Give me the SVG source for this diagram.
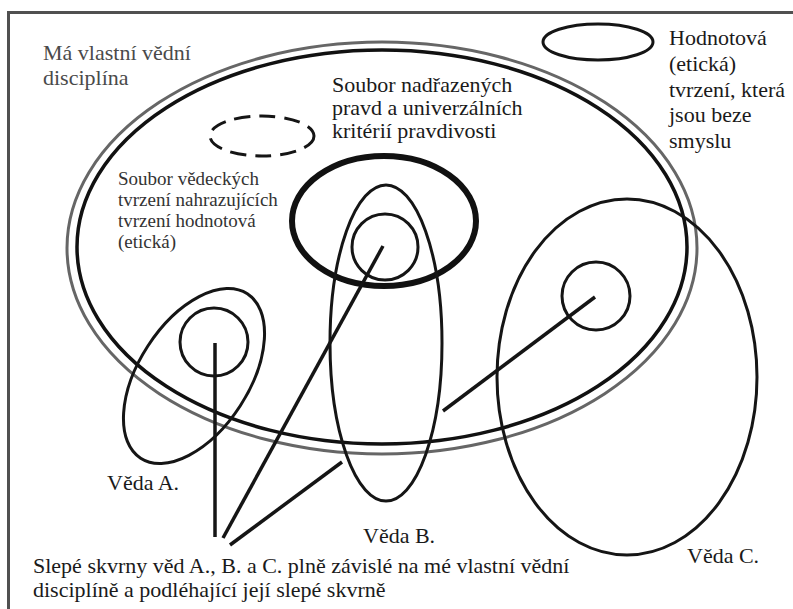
<svg xmlns="http://www.w3.org/2000/svg" width="793" height="609" viewBox="0 0 793 609">
<rect x="0" y="0" width="793" height="609" fill="#ffffff"/>
<g id="frame">
<path d="M8.5 609 V12.5 H793" fill="none" stroke="#505050" stroke-width="3"/>
</g>
<g id="discipline">
<ellipse cx="382" cy="248" rx="315" ry="206" fill="none" stroke="#666" stroke-width="3"/>
<ellipse cx="382" cy="247" rx="305" ry="197" fill="none" stroke="#111" stroke-width="3.5"/>
<text font-family="Times New Roman, Liberation Serif, serif" font-size="22" fill="#4a4a4a" x="43" y="60">Má vlastní vědní</text>
<text font-family="Times New Roman, Liberation Serif, serif" font-size="22" fill="#4a4a4a" x="43" y="85">disciplína</text>
</g>
<g id="dashed">
<ellipse cx="262" cy="136" rx="52" ry="20" fill="none" stroke="#151515" stroke-width="3" stroke-dasharray="16 9"/>
</g>
<g id="vedecka">
<text font-family="Times New Roman, Liberation Serif, serif" font-size="19" fill="#333" x="118" y="185">Soubor vědeckých</text>
<text font-family="Times New Roman, Liberation Serif, serif" font-size="19" fill="#333" x="118" y="206">tvrzení nahrazujících</text>
<text font-family="Times New Roman, Liberation Serif, serif" font-size="19" fill="#333" x="118" y="227">tvrzení hodnotová</text>
<text font-family="Times New Roman, Liberation Serif, serif" font-size="19" fill="#333" x="118" y="248">(etická)</text>
</g>
<g id="hodnotova">
<ellipse cx="598" cy="42" rx="55" ry="18" fill="none" stroke="#151515" stroke-width="3"/>
<text font-family="Times New Roman, Liberation Serif, serif" font-size="22" fill="#1a1a1a" x="669" y="45">Hodnotová</text>
<text font-family="Times New Roman, Liberation Serif, serif" font-size="22" fill="#1a1a1a" x="669" y="71">(etická)</text>
<text font-family="Times New Roman, Liberation Serif, serif" font-size="22" fill="#1a1a1a" x="669" y="97">tvrzení, která</text>
<text font-family="Times New Roman, Liberation Serif, serif" font-size="22" fill="#1a1a1a" x="669" y="122">jsou beze</text>
<text font-family="Times New Roman, Liberation Serif, serif" font-size="22" fill="#1a1a1a" x="669" y="148">smyslu</text>
</g>
<g id="pravdy">
<ellipse cx="384" cy="221" rx="92" ry="65" fill="none" stroke="#111" stroke-width="6"/>
<text font-family="Times New Roman, Liberation Serif, serif" font-size="22" fill="#1a1a1a" x="332" y="92">Soubor nadřazených</text>
<text font-family="Times New Roman, Liberation Serif, serif" font-size="22" fill="#1a1a1a" x="332" y="115">pravd a univerzálních</text>
<text font-family="Times New Roman, Liberation Serif, serif" font-size="22" fill="#1a1a1a" x="332" y="138">kritérií pravdivosti</text>
</g>
<g id="vedaA" fill="none" stroke="#151515" stroke-width="3">
<ellipse cx="0" cy="0" rx="55" ry="98" transform="translate(194 376) rotate(33)"/>
<circle cx="214" cy="342" r="34"/>
<text font-family="Times New Roman, Liberation Serif, serif" font-size="22" fill="#1a1a1a" stroke="none" x="107" y="490">Věda A.</text>
</g>
<g id="vedaB" fill="none" stroke="#151515" stroke-width="3">
<ellipse cx="386" cy="343" rx="56" ry="158"/>
<circle cx="385" cy="247" r="33"/>
<text font-family="Times New Roman, Liberation Serif, serif" font-size="22" fill="#1a1a1a" stroke="none" x="363" y="543">Věda B.</text>
</g>
<g id="vedaC" fill="none" stroke="#151515" stroke-width="3">
<ellipse cx="627" cy="377" rx="130" ry="178"/>
<circle cx="596" cy="296" r="34"/>
<text font-family="Times New Roman, Liberation Serif, serif" font-size="22" fill="#1a1a1a" stroke="none" x="687" y="563">Věda C.</text>
</g>
<g id="connectors" stroke="#151515" stroke-width="3.5">
<line x1="215" y1="343" x2="215" y2="537"/>
<line x1="383" y1="246" x2="223" y2="538"/>
<line x1="342" y1="462" x2="230" y2="545"/>
<line x1="595" y1="297" x2="443" y2="411"/>
</g>
<g id="slepe">
<text font-family="Times New Roman, Liberation Serif, serif" font-size="22" fill="#1a1a1a" x="33" y="573">Slepé skvrny věd A., B. a C. plně závislé na mé vlastní vědní</text>
<text font-family="Times New Roman, Liberation Serif, serif" font-size="22" fill="#1a1a1a" x="33" y="597">disciplíně a podléhající její slepé skvrně</text>
</g>
</svg>
